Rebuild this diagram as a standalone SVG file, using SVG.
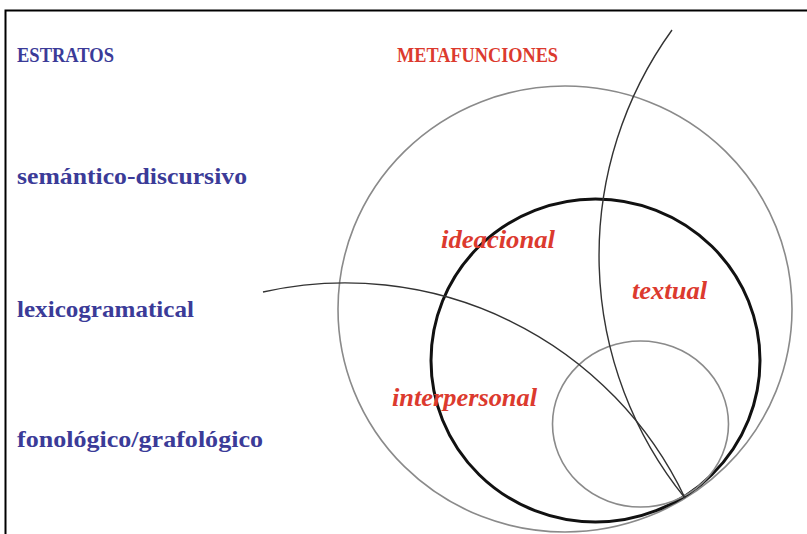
<svg xmlns="http://www.w3.org/2000/svg" width="807" height="534" viewBox="0 0 807 534">
  <style>
    .strata { font-family: "Liberation Serif", "Times New Roman", serif; font-weight: bold; fill: #3b3b98; }
    .meta { font-family: "Liberation Serif", "Times New Roman", serif; font-weight: bold; fill: #dc3a2e; }
    .mf { font-family: "Liberation Serif", "Times New Roman", serif; font-weight: bold; font-style: italic; font-size: 26px; fill: #dc3a2e; }
    .gray { fill: none; stroke: #8a8a8a; stroke-width: 1.6; }
    .bold { fill: none; stroke: #111; stroke-width: 3; }
    .arc { fill: none; stroke: #333; stroke-width: 1.4; }
  </style>
  <rect width="807" height="534" fill="#fff"/>
  <g id="frame">
    <path d="M5.5,534 V10.5 H807" fill="none" stroke="#000" stroke-width="2"/>
  </g>
  <g id="strata-labels">
    <text class="strata" x="17" y="62" font-size="20" textLength="97" lengthAdjust="spacingAndGlyphs">ESTRATOS</text>
    <text class="strata" x="17" y="184" font-size="23" textLength="230" lengthAdjust="spacingAndGlyphs">semántico-discursivo</text>
    <text class="strata" x="17" y="317" font-size="23" textLength="177" lengthAdjust="spacingAndGlyphs">lexicogramatical</text>
    <text class="strata" x="17" y="447" font-size="23" textLength="246" lengthAdjust="spacingAndGlyphs">fonológico/grafológico</text>
  </g>
  <g id="outer-circle">
    <ellipse class="gray" cx="565" cy="309" rx="227" ry="223"/>
  </g>
  <g id="inner-circle">
    <ellipse class="bold" cx="595.5" cy="360.5" rx="164.5" ry="161.5"/>
  </g>
  <g id="small-circle">
    <ellipse class="gray" cx="640.5" cy="424" rx="88" ry="83"/>
  </g>
  <g id="connectors">
    <path class="arc" d="M672,30 A385,385 0 0,0 685,498"/>
    <path class="arc" d="M263,292 A376,376 0 0,1 685,498"/>
  </g>
  <g id="metafunction-labels">
    <text class="meta" x="397" y="62" font-size="20" textLength="161" lengthAdjust="spacingAndGlyphs">METAFUNCIONES</text>
    <text class="mf" x="441" y="248" textLength="114" lengthAdjust="spacingAndGlyphs">ideacional</text>
    <text class="mf" x="632" y="299" textLength="75" lengthAdjust="spacingAndGlyphs">textual</text>
    <text class="mf" x="392" y="406" textLength="145" lengthAdjust="spacingAndGlyphs">interpersonal</text>
  </g>
</svg>
